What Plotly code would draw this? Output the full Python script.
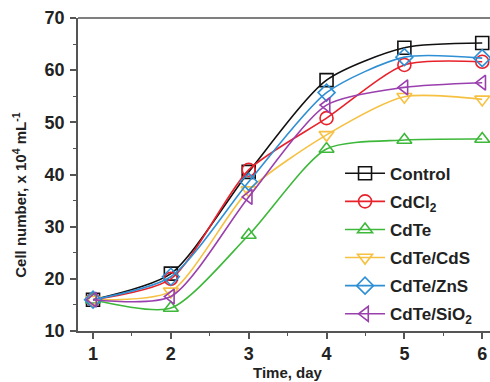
import plotly.graph_objects as go

days = [1, 2, 3, 4, 5, 6]

control = [16.0, 21.0, 40.5, 58.1, 64.3, 65.2]
cdcl2 = [16.0, 20.0, 40.9, 50.8, 61.0, 61.6]
cdte = [16.0, 14.4, 28.4, 44.9, 46.6, 46.8]
cdte_cds = [16.0, 17.6, 37.0, 47.6, 54.9, 54.4]
cdte_zns = [16.0, 20.4, 38.6, 55.7, 62.5, 62.3]
cdte_sio2 = [16.0, 16.6, 35.7, 53.3, 56.7, 57.6]

series_names = ["Control", "CdCl<sub>2</sub>", "CdTe", "CdTe/CdS", "CdTe/ZnS", "CdTe/SiO<sub>2</sub>"]
series_values = [control, cdcl2, cdte, cdte_cds, cdte_zns, cdte_sio2]
series_colors = ["#111111", "#e8212b", "#3db83a", "#f6c143", "#2e8fd4", "#9a3fae"]
series_symbols = ["square-open", "circle-open", "triangle-up-open",
                  "triangle-down-open", "diamond-open", "triangle-left-open"]

x_ticks = [1, 2, 3, 4, 5, 6]
y_ticks = [10, 20, 30, 40, 50, 60, 70]

FONT = "Arial, Liberation Sans, sans-serif"
AXIS_COLOR = "#555555"

fig = go.Figure()
for i, (name, vals, col, sym) in enumerate(zip(series_names, series_values, series_colors, series_symbols)):
    fig.add_trace(go.Scatter(
        x=days, y=vals, name=name, mode="lines+markers",
        line=dict(color=col, width=1.6, shape="spline", smoothing=0.7),
        marker=dict(symbol=sym, size=13, color=col, line=dict(color=col, width=1.6)),
        legendgroup=f"g{i}",
    ))

fig.update_layout(
    width=490, height=382,
    margin=dict(l=78, r=0, t=18, b=51),
    paper_bgcolor="white", plot_bgcolor="white",
    font=dict(family=FONT, size=17, color="#222222", weight="bold"),
    showlegend=True,
    legend=dict(
        x=0.636, y=0.56, xanchor="left", yanchor="top",
        bgcolor="rgba(0,0,0,0)", borderwidth=0,
        font=dict(family=FONT, size=17, color="#222222", weight="bold"),
        traceorder="grouped", tracegroupgap=3,
        itemwidth=40,
    ),
    xaxis=dict(
        range=[0.807, 6.10], tickvals=x_ticks, ticktext=[str(t) for t in x_ticks],
        showgrid=False, zeroline=False, showline=True, linecolor=AXIS_COLOR, linewidth=1.5,
        ticks="outside", ticklen=6, tickwidth=1.5, tickcolor=AXIS_COLOR,
        minor=dict(dtick=0.5, tick0=0.5, ticks="outside", ticklen=3, tickwidth=1.2, tickcolor=AXIS_COLOR),
        tickfont=dict(size=18, family=FONT, weight="bold"),
    ),
    yaxis=dict(
        range=[10, 70], tickvals=y_ticks, ticktext=[str(t) for t in y_ticks],
        showgrid=False, zeroline=False, showline=True, linecolor=AXIS_COLOR, linewidth=1.5,
        ticks="outside", ticklen=6, tickwidth=1.5, tickcolor=AXIS_COLOR,
        minor=dict(dtick=5, tick0=5, ticks="outside", ticklen=3, tickwidth=1.2, tickcolor=AXIS_COLOR),
        tickfont=dict(size=18, family=FONT, weight="bold"),
        ticklabelstandoff=2,
    ),
    shapes=[dict(type="line", xref="paper", yref="paper", x0=0, x1=1, y0=1, y1=1,
                 line=dict(color=AXIS_COLOR, width=1.5))],
    annotations=[
        dict(text="Time, day", xref="paper", yref="paper", x=0.51, y=-0.134,
             xanchor="center", yanchor="middle", showarrow=False,
             font=dict(size=15, family=FONT, weight="bold")),
        dict(text="Cell number, x 10<sup>4</sup> mL<sup>-1</sup>", xref="paper", yref="paper",
             x=-0.141, y=0.435, xanchor="center", yanchor="middle", textangle=-90,
             showarrow=False, font=dict(size=15, family=FONT, weight="bold")),
    ],
)

fig.write_html("out.html")
